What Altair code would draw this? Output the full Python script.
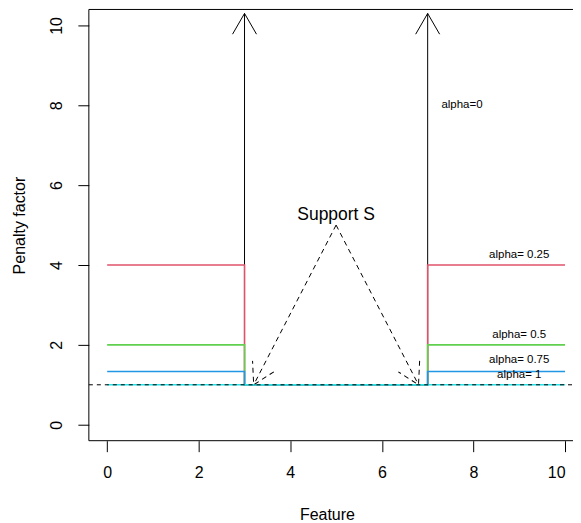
import math
import altair as alt
import pandas as pd

# ---------------- data ----------------
alphas = [0.25, 0.5, 0.75, 1.0]
alpha_labels = ["alpha= 0.25", "alpha= 0.5", "alpha= 0.75", "alpha= 1"]
series_colors = ["#DF536B", "#61D04F", "#2297E6", "#28E2E5"]
feature_min, feature_max = 0, 10
support_start, support_end = 3, 7
inside_penalty = 1
label_x = 9
label_y = [4.25, 2.25, 1.62, 1.25]
alpha0_label = "alpha=0"
alpha0_x, alpha0_y = 7.75, 8
inf_arrow_x = [3, 7]
inf_arrow_y0, inf_arrow_y1 = 1, 10.3
apex_x, apex_y = 5, 5
feet_x = [3.2, 6.8]
feet_y = 1
support_label = "Support S"
support_label_x, support_label_y = 5, 5.25
x_ticks = [0, 2, 4, 6, 8, 10]
y_ticks = [0, 2, 4, 6, 8, 10]

# ---------------- layout ----------------
W, H = 477, 432
RIGHT_PAD = 8
XMIN, XMAX = -0.4, 10.0
YMIN, YMAX = -0.4, 10.4
PX_X = W / (XMAX - XMIN)
PX_Y = H / (YMAX - YMIN)
FONT = "Liberation Sans"
ARROW_PATH = "M-0.5,0.866L0,0L0.5,0.866"
ARROW_SIZE = (2 * 24) ** 2

xscale = alt.Scale(domain=[XMIN, XMAX], nice=False, zero=False)
yscale = alt.Scale(domain=[YMIN, YMAX], nice=False, zero=False)
xaxis = alt.Axis(values=x_ticks, title="Feature")
yaxis = alt.Axis(values=y_ticks, title="Penalty factor")


def X(f="x"):
    return alt.X(f"{f}:Q", scale=xscale, axis=xaxis, title="Feature")


def Y(f="y"):
    return alt.Y(f"{f}:Q", scale=yscale, axis=yaxis, title="Penalty factor")


def head_angle(x0, y0, x1, y1):
    dx = (x1 - x0) * PX_X
    dy = -(y1 - y0) * PX_Y
    return math.degrees(math.atan2(dx, -dy)) % 360


# step series
rows = []
for a, lab in zip(alphas, alpha_labels):
    v = 1 / a
    xs = [feature_min, support_start, support_start, support_end, support_end, feature_max]
    ys = [v, v, inside_penalty, inside_penalty, v, v]
    for i, (xx, yy) in enumerate(zip(xs, ys)):
        rows.append({"x": xx, "y": yy, "series": lab, "i": i})
steps = pd.DataFrame(rows)

shafts = pd.DataFrame({"x": inf_arrow_x, "y": [inf_arrow_y0] * 2, "y2": [inf_arrow_y1] * 2})
heads = pd.DataFrame({"x": inf_arrow_x, "y": [inf_arrow_y1] * 2,
                      "angle": [head_angle(xx, inf_arrow_y0, xx, inf_arrow_y1) for xx in inf_arrow_x]})
supp = pd.DataFrame({"x": [apex_x] * 2, "y": [apex_y] * 2, "x2": feet_x, "y2": [feet_y] * 2})
supp_heads = pd.DataFrame({"x": feet_x, "y": [feet_y] * 2,
                           "angle": [head_angle(apex_x, apex_y, fx, feet_y) for fx in feet_x]})
hline = pd.DataFrame({"y": [inside_penalty]})
labels = pd.DataFrame({"x": [label_x] * 4 + [alpha0_x], "y": label_y + [alpha0_y],
                       "t": alpha_labels + [alpha0_label]})
slabel = pd.DataFrame({"x": [support_label_x], "y": [support_label_y], "t": [support_label]})
frame = pd.DataFrame({"k": [0]})

# open frame (its right side falls outside the picture in the original)
frame_top = alt.Chart(frame).mark_rule(color="black", strokeWidth=1).encode(
    x=alt.value(0), x2=alt.value(W + RIGHT_PAD), y=alt.value(0))
frame_left = alt.Chart(frame).mark_rule(color="black", strokeWidth=1).encode(
    x=alt.value(0), y=alt.value(0), y2=alt.value(H))
frame_bottom = alt.Chart(frame).mark_rule(color="black", strokeWidth=1).encode(
    x=alt.value(0), x2=alt.value(W + RIGHT_PAD), y=alt.value(H))

shaft_layer = alt.Chart(shafts).mark_rule(color="black", strokeWidth=1).encode(
    x=X(), y=Y(), y2="y2:Q")
head_layer = alt.Chart(heads).mark_point(
    shape=ARROW_PATH, size=ARROW_SIZE, filled=False, color="black", strokeWidth=1, opacity=1
).encode(x=X(), y=Y(), angle=alt.Angle("angle:Q", scale=None))

step_layer = alt.Chart(steps).mark_line(strokeWidth=1.6).encode(
    x=X(), y=Y(), order="i:Q",
    color=alt.Color("series:N", scale=alt.Scale(domain=alpha_labels, range=series_colors), legend=None))

hline_layer = alt.Chart(hline).mark_rule(color="black", strokeWidth=1, strokeDash=[4, 4]).encode(
    y=Y(), x=alt.value(0), x2=alt.value(W + RIGHT_PAD))

supp_layer = alt.Chart(supp).mark_rule(color="black", strokeWidth=1, strokeDash=[5, 4]).encode(
    x=X(), y=Y(), x2="x2:Q", y2="y2:Q")
supp_head_layer = alt.Chart(supp_heads).mark_point(
    shape=ARROW_PATH, size=ARROW_SIZE, filled=False, color="black", strokeWidth=1, opacity=1,
    strokeDash=[5, 4]
).encode(x=X(), y=Y(), angle=alt.Angle("angle:Q", scale=None))

label_layer = alt.Chart(labels).mark_text(
    font=FONT, fontSize=11.5, color="black", align="center", baseline="middle").encode(
    x=X(), y=Y(), text="t:N")
slabel_layer = alt.Chart(slabel).mark_text(
    font=FONT, fontSize=17.5, color="black", align="center", baseline="middle").encode(
    x=X(), y=Y(), text="t:N")

chart = alt.layer(
    shaft_layer, head_layer, step_layer, hline_layer, supp_layer, supp_head_layer,
    label_layer, slabel_layer, frame_top, frame_left, frame_bottom
).properties(
    width=W, height=H,
    padding={"left": 81, "top": 1, "right": RIGHT_PAD, "bottom": 83},
    autosize=alt.AutoSizeParams(type="none"),
    background="white",
).configure_view(
    stroke=None
).configure_axis(
    grid=False, domain=False, ticks=True, tickSize=11, tickColor="black", tickWidth=1,
    labelFont=FONT, labelFontSize=16, labelColor="black",
    titleFont=FONT, titleFontSize=16, titleFontWeight="normal", titleColor="black",
).configure_axisX(
    labelPadding=13, titleY=79, titleBaseline="alphabetic",
).configure_axisY(
    labelAngle=270, labelAlign="center", labelBaseline="bottom", labelPadding=13,
    titleAngle=270, titleX=-64, titleY=H / 2, titleAlign="center", titleBaseline="alphabetic",
)

chart.save("out.html", embed_options={"renderer": "svg", "actions": False})
